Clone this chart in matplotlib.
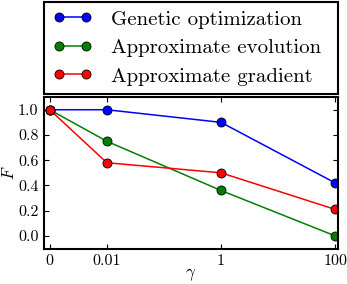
import matplotlib
matplotlib.use("Agg")
import matplotlib.pyplot as plt
from matplotlib.ticker import NullLocator

gammas = [0, 0.01, 1, 100]
gamma_labels = ["0", "0.01", "1", "100"]
genetic = [1.0, 1.0, 0.90, 0.42]
approx_evolution = [1.0, 0.75, 0.36, 0.0]
approx_gradient = [1.0, 0.58, 0.50, 0.21]

plt.rcParams["font.family"] = "cmr10"
plt.rcParams["mathtext.fontset"] = "cm"
plt.rcParams["axes.formatter.use_mathtext"] = True

fig = plt.figure(figsize=(3.47, 2.84), dpi=100)
ax = fig.add_axes([0.127, 0.125, 0.847, 0.533])

series = [
    (genetic, "blue", "Genetic optimization"),
    (approx_evolution, "green", "Approximate evolution"),
    (approx_gradient, "red", "Approximate gradient"),
]
for vals, col, lab in series:
    ax.plot(gammas, vals, color=col, marker="o", markersize=6.5, markeredgecolor="black",
            markeredgewidth=0.6, linewidth=1.1, label=lab)

# 0 sits one decade left of 0.01
ax.set_xscale("symlog", linthresh=0.01, linscale=0.9)
ax.set_xticks(gammas)
ax.set_xticklabels(gamma_labels)
ax.xaxis.set_minor_locator(NullLocator())
ax.set_yticks([0.0, 0.2, 0.4, 0.6, 0.8, 1.0])
ax.set_yticklabels(["0.0", "0.2", "0.4", "0.6", "0.8", "1.0"])
ax.set_xlim(-0.001, 112)
ax.set_ylim(-0.1, 1.1)
ax.tick_params(direction="in", top=True, right=True, labelsize=11.5, length=3.5, pad=4)
for s in ax.spines.values():
    s.set_linewidth(1.5)

ax.set_xlabel(r"$\gamma$", fontsize=12, labelpad=-1)
ax.set_ylabel(r"$F$", fontsize=12, labelpad=1)

leg = ax.legend(loc="lower left", bbox_to_anchor=(0, 1.02, 1, 0.3), mode="expand",
                numpoints=2, fontsize=15, handlelength=1.9, borderaxespad=0,
                fancybox=False, framealpha=1, edgecolor="black", labelspacing=0.48,
                borderpad=0.4, handletextpad=0.9)
leg.get_frame().set_linewidth(1.5)

fig.savefig("out.png", dpi=100)
